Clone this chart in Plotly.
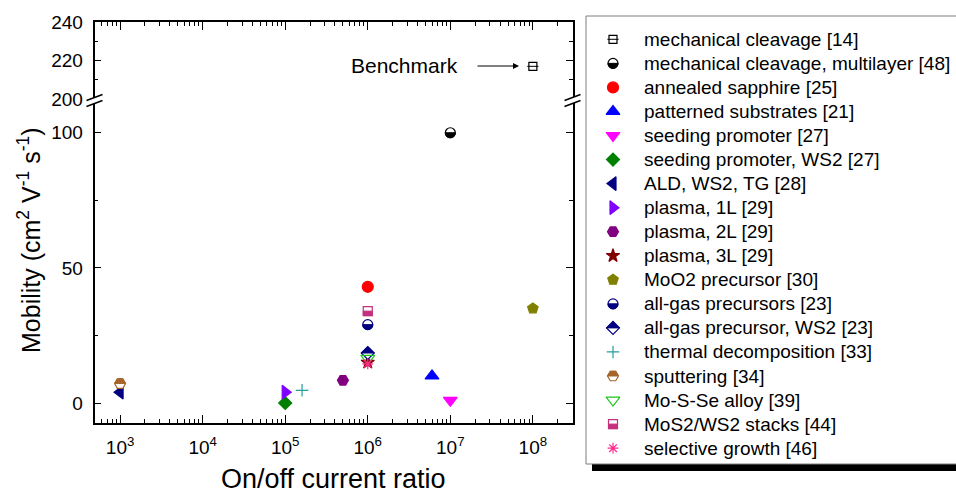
import math
import plotly.graph_objects as go

# ---------------------------------------------------------------- data
labels = [
    "mechanical cleavage [14]",
    "mechanical cleavage, multilayer [48]",
    "annealed sapphire [25]",
    "patterned substrates [21]",
    "seeding promoter [27]",
    "seeding promoter, WS2 [27]",
    "ALD, WS2, TG [28]",
    "plasma, 1L [29]",
    "plasma, 2L [29]",
    "plasma, 3L [29]",
    "MoO2 precursor [30]",
    "all-gas precursors [23]",
    "all-gas precursor, WS2 [23]",
    "thermal decomposition [33]",
    "sputtering [34]",
    "Mo-S-Se alloy [39]",
    "MoS2/WS2 stacks [44]",
    "selective growth [46]",
]
on_off_ratio = [1e8, 1e7, 1e6, 6e6, 1e7, 1e5, 1e3, 1e5, 5e5, 1e6,
                1e8, 1e6, 1e6, 1.6e5, 1e3, 1e6, 1e6, 1e6]
mobility = [217, 100, 43, 10, 1, 0, 4, 4, 8.4, 15,
            35, 29, 18.5, 4.7, 7.2, 16.5, 34, 14.5]

x_tick_exponents = [3, 4, 5, 6, 7, 8]
y_ticks_lower = [0, 50, 100]
y_ticks_upper = [200, 220, 240]
y_minor_lower = [25, 75]
y_minor_upper = [210, 230]
axis_break_value = 150          # values above this sit on the upper segment

# ------------------------------------------------------- marker styles
# (symbol, fill colour, outline colour, size, half filled: None/"top"/"bottom")
styles = [
    ("square-open", "#000000", "#000000", 8, None),
    ("circle", "#ffffff", "#000000", 10, "bottom"),
    ("circle", "#ff0000", "#ff0000", 11, None),
    ("triangle-up", "#0000ff", "#0000ff", 12, None),
    ("triangle-down", "#ff00ff", "#ff00ff", 12, None),
    ("diamond", "#008000", "#008000", 10, None),
    ("triangle-left", "#000080", "#000080", 12, None),
    ("triangle-right", "#8000ff", "#8000ff", 12, None),
    ("hexagon2", "#800080", "#800080", 11, None),
    ("star", "#800000", "#800000", 10, None),
    ("pentagon", "#808000", "#808000", 11, None),
    ("circle", "#ffffff", "#000080", 10, "bottom"),
    ("diamond", "#ffffff", "#000080", 10, "top"),
    ("cross-thin-open", "#2a9d9d", "#2a9d9d", 9, None),
    ("hexagon2", "#ffffff", "#a5652a", 11, "top"),
    ("triangle-down-open", "#1ec41e", "#1ec41e", 12, None),
    ("square", "#ffffff", "#c4307c", 9, "bottom"),
    ("asterisk-open", "#ff2a90", "#ff2a90", 9, None),
]

FONT = "Arial, 'Liberation Sans', sans-serif"
W, H = 956, 495


def px(x):
    return x / W


def py(y):
    return 1 - y / H


# plot frame in pixels
L, R, T, B, YB = 94.5, 572.5, 22, 423, 99.5


def marker_dict(style):
    sym, fill, edge, size, _ = style
    if sym.endswith("-open"):
        return dict(symbol=sym, size=size, color=edge, line=dict(color=edge, width=1.2))
    return dict(symbol=sym, size=size, color=fill, line=dict(color=edge, width=1.2))


def half_path(symbol, size, half):
    r = size / 2
    s = 1 if half == "top" else -1
    if symbol.startswith("circle"):
        pts = [(r * math.cos(math.pi * k / 16), s * r * math.sin(math.pi * k / 16))
               for k in range(17)]
    elif symbol.startswith("square"):
        pts = [(-r, 0), (-r, s * r), (r, s * r), (r, 0)]
    elif symbol.startswith("diamond"):
        rd = 1.3 * r
        pts = [(-rd, 0), (0, s * rd), (rd, 0)]
    else:  # flat-topped hexagon
        h = r * math.sqrt(3) / 2
        pts = [(-r, 0), (-r / 2, s * h), (r / 2, s * h), (r, 0)]
    return "M" + "L".join(f"{x:.2f},{y:.2f}" for x, y in pts) + "Z"


def half_shape(xref, yref, xv, yv, style):
    sym, fill, edge, size, half = style
    return dict(type="path", xref=xref, yref=yref, xsizemode="pixel", ysizemode="pixel",
                xanchor=xv, yanchor=yv, path=half_path(sym, size, half),
                fillcolor=edge, line=dict(color=edge, width=1), layer="above")


fig = go.Figure()
shapes = []

# ---------------------------------------------------------- data points
for i, lab in enumerate(labels):
    ya = "y2" if mobility[i] > axis_break_value else "y"
    xa = "x2" if ya == "y2" else "x"
    fig.add_trace(go.Scatter(x=[on_off_ratio[i]], y=[mobility[i]], mode="markers",
                             xaxis=xa, yaxis=ya, name=lab, cliponaxis=False,
                             marker=marker_dict(styles[i])))
    if styles[i][0] == "square-open":
        fig.add_trace(go.Scatter(x=[on_off_ratio[i]], y=[mobility[i]], mode="markers",
                                 xaxis=xa, yaxis=ya, cliponaxis=False,
                                 marker=dict(symbol="line-ew-open", size=styles[i][3],
                                             color=styles[i][2], line=dict(width=1))))
    if styles[i][4]:
        shapes.append(half_shape(xa, ya, on_off_ratio[i], mobility[i], styles[i]))

# --------------------------------------------------------------- legend
LEG_X0, LEG_Y0, LEG_Y1 = 586, 16, 464
row_y0, row_dy = 39.3, 24.05
sym_x, txt_x = 613, 641.5
shapes.append(dict(type="rect", xref="paper", yref="paper", x0=px(LEG_X0 + 6), x1=px(975),
                   y0=py(471), y1=py(LEG_Y0 + 6), fillcolor="black",
                   line=dict(width=0), layer="below"))
shapes.append(dict(type="rect", xref="paper", yref="paper", x0=px(LEG_X0), x1=px(970),
                   y0=py(LEG_Y1), y1=py(LEG_Y0), fillcolor="white",
                   line=dict(color="#7f7f7f", width=1), layer="below"))

annotations = []
for i, lab in enumerate(labels):
    ry = row_y0 + row_dy * i
    fig.add_trace(go.Scatter(x=[sym_x], y=[ry], mode="markers", xaxis="x3", yaxis="y3",
                             cliponaxis=False, marker=marker_dict(styles[i])))
    if styles[i][0] == "square-open":
        fig.add_trace(go.Scatter(x=[sym_x], y=[ry], mode="markers", xaxis="x3", yaxis="y3",
                                 cliponaxis=False,
                                 marker=dict(symbol="line-ew-open", size=styles[i][3],
                                             color=styles[i][2], line=dict(width=1))))
    if styles[i][4]:
        shapes.append(half_shape("x3", "y3", sym_x, ry, styles[i]))
    annotations.append(dict(x=txt_x, y=ry, xref="x3", yref="y3", text=lab, showarrow=False,
                            xanchor="left", yanchor="middle",
                            font=dict(size=19, color="black", family=FONT)))

# ----------------------------------------------------------- axis break
for xb in (L, R):
    shapes.append(dict(type="path", xref="paper", yref="paper",
                       path=f"M{px(xb - 8)},{py(100.5)} L{px(xb + 8)},{py(94.5)} "
                            f"L{px(xb + 8)},{py(100.5)} L{px(xb - 8)},{py(106.5)} Z",
                       fillcolor="white", line=dict(width=0), layer="above"))
    for yy in (100.5, 106.5):
        shapes.append(dict(type="line", xref="paper", yref="paper",
                           x0=px(xb - 8), y0=py(yy), x1=px(xb + 8), y1=py(yy - 6),
                           line=dict(color="black", width=1.5), layer="above"))

# ---------------------------------------------------------- annotations
annotations += [
    dict(x=px(460), y=py(66), xref="paper", yref="paper", text="Benchmark",
         showarrow=False, xanchor="right", yanchor="middle",
         font=dict(size=21, color="black", family=FONT)),
    dict(x=px(519), y=py(66), xref="paper", yref="paper", text="", showarrow=True,
         ax=-43, ay=0, arrowhead=2, arrowsize=1.2, arrowwidth=1, arrowcolor="black"),
    dict(x=px(29), y=py(240), xref="paper", yref="paper", textangle=-90,
         xanchor="center", yanchor="middle",
         text="Mobility (cm<sup>2</sup> V<sup>-1</sup> s<sup>-1</sup>)", showarrow=False,
         font=dict(size=25, color="black", family=FONT)),
    dict(x=px(333), y=py(479), xref="paper", yref="paper", text="On/off current ratio",
         xanchor="center", yanchor="middle",
         showarrow=False, font=dict(size=27, color="black", family=FONT)),
]

# ----------------------------------------------------------------- axes
minor_x = [k * 10 ** e for e in range(2, 9) for k in range(2, 10)]
common = dict(showline=True, linecolor="black", linewidth=1.5, ticks="inside",
              tickcolor="black", tickwidth=1.2, showgrid=False, zeroline=False,
              automargin=False, tickfont=dict(size=19, color="black", family=FONT))
x_common = dict(domain=[px(L), px(R)], type="log", range=[2.69, 8.48],
                tickvals=[10 ** e for e in x_tick_exponents],
                ticktext=[f"10<sup>{e}</sup>" for e in x_tick_exponents], ticklen=8,
                minor=dict(tickvals=minor_x, ticks="inside", ticklen=4,
                           tickcolor="black", tickwidth=1.2), **common)

fig.update_layout(
    template="none",
    width=W, height=H, margin=dict(l=0, r=0, t=0, b=0, pad=0), autosize=False,
    paper_bgcolor="white", plot_bgcolor="rgba(0,0,0,0)", showlegend=False,
    font=dict(family=FONT, size=19, color="black"),
    xaxis=dict(anchor="y", ticklabelstandoff=6, **x_common),
    xaxis2=dict(anchor="y2", side="top", showticklabels=False, **x_common),
    yaxis=dict(domain=[py(B), py(YB)], anchor="x", range=[-7.4, 112.3],
               tickvals=y_ticks_lower, ticklen=7, mirror="allticks", ticklabelstandoff=6,
               minor=dict(tickvals=y_minor_lower, ticks="inside", ticklen=4,
                          tickcolor="black", tickwidth=1.2), **common),
    yaxis2=dict(domain=[py(YB), py(T)], anchor="x", range=[199.8, 240],
                tickvals=y_ticks_upper, ticklen=7, mirror="allticks", ticklabelstandoff=6,
                minor=dict(tickvals=y_minor_upper, ticks="inside", ticklen=4,
                           tickcolor="black", tickwidth=1.2), **common),
    xaxis3=dict(domain=[0, 1], range=[0, W], visible=False, anchor="y3", automargin=False),
    yaxis3=dict(domain=[0, 1], range=[H, 0], visible=False, anchor="x3", automargin=False),
    shapes=shapes, annotations=annotations,
)

fig.write_html("out.html")
